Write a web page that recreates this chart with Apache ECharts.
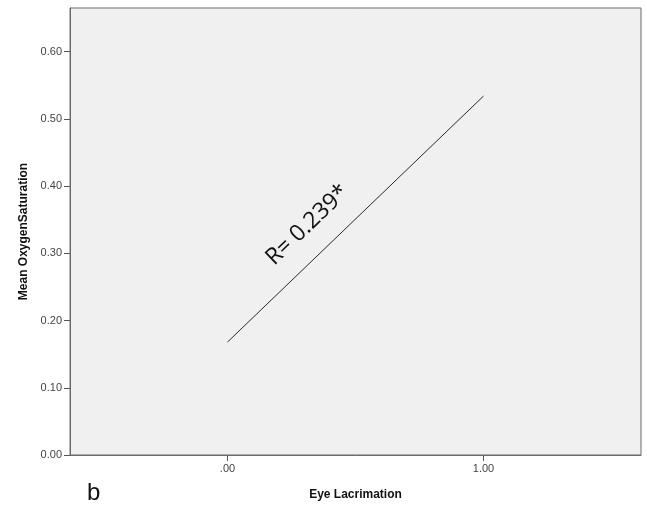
<!DOCTYPE html>
<html>
<head>
<meta charset="utf-8">
<script src="https://cdn.jsdelivr.net/npm/echarts@6/dist/echarts.min.js"></script>
<style>html,body{margin:0;padding:0;background:#fff}#c{width:647px;height:506px}</style>
</head>
<body>
<div id="c"></div>
<script>
// Data
const xTicks = [0, 1];
const xTickLabels = ['.00', '1.00'];
const yTicks = [0, 0.1, 0.2, 0.3, 0.4, 0.5, 0.6];
const fitX = [0, 1];
const fitY = [0.168, 0.534];
const annotationText = 'R= 0.239*';
const annotationAt = [0.3125, 0.342];
const panelLetter = 'b';

const chart = echarts.init(document.getElementById('c'), null, {renderer: 'canvas'});
const lineData = fitX.map((x, i) => [x, fitY[i]]);

chart.setOption({
  animation: false,
  grid: {left: 70, right: 6, top: 8, bottom: 49, show: true, backgroundColor: '#f0f0f0', borderColor: '#6b6b6b', borderWidth: 1},
  xAxis: {
    type: 'value', min: -0.615, max: 1.615,
    name: 'Eye Lacrimation', nameLocation: 'middle', nameGap: 34,
    nameTextStyle: {fontFamily: 'Liberation Sans', fontWeight: 'bold', fontSize: 12, color: '#111'},
    axisLine: {show: true, onZero: false, lineStyle: {color: '#6b6b6b'}},
    splitLine: {show: false},
    axisTick: {show: false},
    axisLabel: {fontFamily: 'Liberation Sans', fontSize: 11, color: '#444', margin: 8, customValues: xTicks,
      formatter: v => xTickLabels[xTicks.indexOf(v)] ?? ''}
  },
  yAxis: {
    type: 'value', min: 0, max: 0.665,
    name: 'Mean OxygenSaturation', nameLocation: 'middle', nameGap: 40,
    nameTextStyle: {fontFamily: 'Liberation Sans', fontWeight: 'bold', fontSize: 12, color: '#111'},
    axisLine: {show: true, onZero: false, lineStyle: {color: '#6b6b6b'}},
    splitLine: {show: false},
    axisTick: {show: true, length: 6, lineStyle: {color: '#555'}, customValues: yTicks},
    axisLabel: {fontFamily: 'Liberation Sans', fontSize: 11, color: '#444', margin: 8, customValues: yTicks,
      formatter: v => v.toFixed(2)}
  },
  series: [{
    type: 'line', data: lineData, symbol: 'none',
    lineStyle: {color: '#2a2a2a', width: 1}
  }]
});

const p = chart.convertToPixel({gridIndex: 0}, annotationAt);
const p0 = chart.convertToPixel({gridIndex: 0}, lineData[0]);
const p1 = chart.convertToPixel({gridIndex: 0}, lineData[1]);
const ang = Math.atan2(p0[1] - p1[1], p1[0] - p0[0]);
const xTickMarks = xTicks.map(v => {
  const q = chart.convertToPixel({gridIndex: 0}, [v, 0]);
  return {type: 'line', shape: {x1: q[0], y1: q[1], x2: q[0], y2: q[1] + 6}, style: {stroke: '#555', lineWidth: 1}};
});
chart.setOption({
  graphic: [
    {type: 'text', x: p[0], y: p[1], rotation: ang,
      style: {text: annotationText, fontFamily: 'Open Sans', fontSize: 23, fill: '#111', align: 'center', verticalAlign: 'middle'}},
    {type: 'text', left: 87, top: 481,
      style: {text: panelLetter, fontFamily: 'Liberation Sans', fontSize: 24, fill: '#111'}},
    ...xTickMarks
  ]
});
</script>
</body>
</html>
